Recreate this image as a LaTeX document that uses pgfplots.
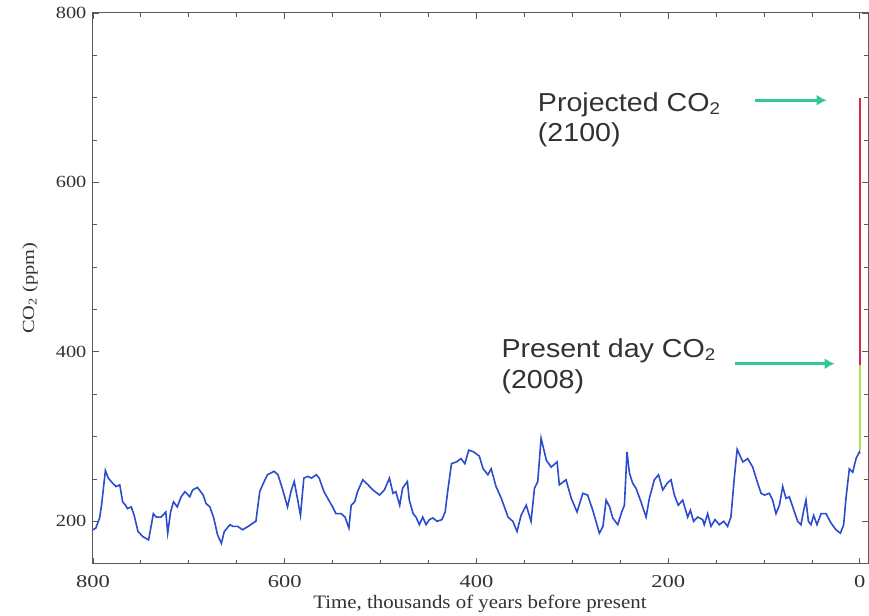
\documentclass[border=0pt]{standalone}
\usepackage{pgfplots}
\pgfplotsset{compat=1.18}
\usepackage{graphicx}
\usetikzlibrary{arrows.meta}
\usepackage{fontspec}
\setmainfont{Liberation Serif}
\newfontfamily\arial{Liberation Sans}
\definecolor{cblue}{RGB}{45,75,205}
\definecolor{cteal}{RGB}{50,200,150}
\definecolor{cred}{RGB}{215,40,80}
\definecolor{cgreen}{RGB}{175,225,70}
\definecolor{ctext}{RGB}{50,50,50}
\definecolor{caxis}{RGB}{90,90,90}
\begin{document}
\begin{tikzpicture}
\begin{axis}[
  scale only axis,
  width=776pt, height=551pt,
  x dir=reverse,
  xmin=-9, xmax=800,
  ymin=150, ymax=800,
  xtick={0,200,400,600,800},
  xticklabels={\scalebox{1.25}[1]{0},\scalebox{1.25}[1]{200},\scalebox{1.25}[1]{400},\scalebox{1.25}[1]{600},\scalebox{1.25}[1]{800}},
  ytick={200,400,600,800},
  yticklabels={\scalebox{1.2}[1]{200},\scalebox{1.2}[1]{400},\scalebox{1.2}[1]{600},\scalebox{1.2}[1]{800}},
  minor x tick num=3,
  minor y tick num=3,
  tick align=inside,
  major tick length=6pt,
  minor tick length=4pt,
  axis line style={caxis, line width=1pt},
  every tick/.style={caxis, line width=0.8pt},
  tick label style={color=ctext},
  xticklabel style={font=\fontsize{18}{18}\selectfont, yshift=-8pt},
  yticklabel style={font=\fontsize{17}{17}\selectfont, xshift=-3pt},
  xlabel={\scalebox{1.1}[1]{Time, thousands of years before present}},
  ylabel={\scalebox{1.2}[1]{CO\textsubscript{2} (ppm)}},
  xlabel style={font=\fontsize{19}{19}\selectfont, color=ctext, at={(axis description cs:0.499,0)}, anchor=center, yshift=-40pt},
  ylabel style={font=\fontsize{17}{17}\selectfont, color=ctext, at={(axis description cs:0,0.5)}, anchor=center, yshift=63pt},
  clip=false,
]
\addplot[cblue, line width=1.6pt] coordinates {
(800,190) (797,192) (793,204) (791,219) (787,260) (784,251) (781,247) (776,241)
(772,243) (769,223) (766,219) (764,215) (760,217) (757,207) (753,188) (748,182)
(742,178) (739,196) (737,209) (734,205) (729,205) (724,211) (722,186) (719,211)
(716,223) (712,217) (708,229) (704,235) (699,229) (696,237) (691,240) (685,231)
(682,221) (678,217) (674,204) (670,184) (666,174) (663,188) (657,196) (654,194)
(649,194) (644,190) (638,194) (633,198) (630,200) (626,235) (623,243) (618,255)
(611,259) (607,255) (602,237) (597,217) (593,237) (590,247) (587,229) (583.5,207)
(580,251) (576,253) (572,251) (567,255) (564,251) (559,235) (555,227) (550,217)
(546.5,209) (541,209) (537,205) (533,192) (530.6,219) (527,223) (524,235) (518.5,249)
(513,243) (508,237) (501,231) (496,237) (490.7,251) (487,233) (484,235) (480,219)
(477,239) (472,247) (470,225) (466,209) (463,205) (459.5,196) (456,205) (452.5,196)
(449,202) (445.5,204) (441,200) (436,202) (432.6,211) (430,235) (426,268) (421,270)
(416,274) (412,268) (408,284) (403,282) (397,277) (393,262) (388,255) (384.6,262)
(379.5,241) (374,227) (367,205) (362,200) (357.6,188) (353.4,207) (348,219) (343,200)
(339.4,239) (336,247) (332.5,298) (327,272) (322,264) (315.8,270) (313.5,243) (306.5,249)
(301,227) (295,211) (289,233) (284,231) (278.6,213) (271.7,186) (268,194) (264.7,225)
(261,217) (257.8,204) (252.5,196) (248.4,211) (245.6,219) (242.9,282) (240.4,257) (237,245)
(233.5,239) (228.3,223) (223,205) (219.6,227) (214.4,249) (210,255) (205.6,237) (201,245)
(197,249) (193.5,231) (189.4,219) (184.8,225) (179.6,205) (176.8,213) (173.4,200) (169.3,205)
(164,202) (162.3,196) (158.8,209) (155.3,194) (151.1,202) (146.6,196) (142,200) (138,194)
(134.5,205) (131,251) (128,285) (125.3,278) (122,270) (117,274) (111.8,264) (106.6,245)
(103,233) (99.6,231) (94.4,233) (91,225) (87.5,209) (83.9,219) (80.5,241) (77,227)
(73.6,229) (70,217) (64.9,200) (61.4,196) (58.6,213) (56.2,225) (53.7,200) (51,196)
(48.2,207) (44.7,196) (40.5,209) (35.3,209) (30.1,198) (24.9,190) (20.3,186) (16.9,196)
(14.5,227) (11,262) (7.4,258) (4,274) (0.5,282) (0,280)
};
\addplot[cgreen, line width=1.8pt] coordinates {(0,284) (0,385)};
\addplot[cred, line width=1.8pt] coordinates {(0,385) (0,700)};
\draw[cteal, line width=3.5pt, -{Latex[length=10pt,width=11pt]}] (axis cs:109.7,697) -- (axis cs:34.6,697);
\draw[cteal, line width=3.5pt, -{Latex[length=10pt,width=11pt]}] (axis cs:130.6,386) -- (axis cs:26.3,386);
\node[anchor=base west, inner sep=0pt, xscale=1.1, color=ctext, font=\arial\fontsize{26}{26}\selectfont] at (axis cs:336,684) {Projected CO\raisebox{-3pt}{\fontsize{17}{17}\selectfont 2}};
\node[anchor=base west, inner sep=0pt, xscale=1.1, color=ctext, font=\arial\fontsize{26}{26}\selectfont] at (axis cs:336,648) {(2100)};
\node[anchor=base west, inner sep=0pt, xscale=1.1, color=ctext, font=\arial\fontsize{26}{26}\selectfont] at (axis cs:374,393) {Present day CO\raisebox{-3pt}{\fontsize{17}{17}\selectfont 2}};
\node[anchor=base west, inner sep=0pt, xscale=1.1, color=ctext, font=\arial\fontsize{26}{26}\selectfont] at (axis cs:374,357) {(2008)};
\end{axis}
\path (current axis.south west) ++(-93pt,-52pt) coordinate (bbA);
\path (current axis.north east) ++(0pt,13pt) coordinate (bbB);
\path (bbA) rectangle (bbB);
\end{tikzpicture}
\end{document}
